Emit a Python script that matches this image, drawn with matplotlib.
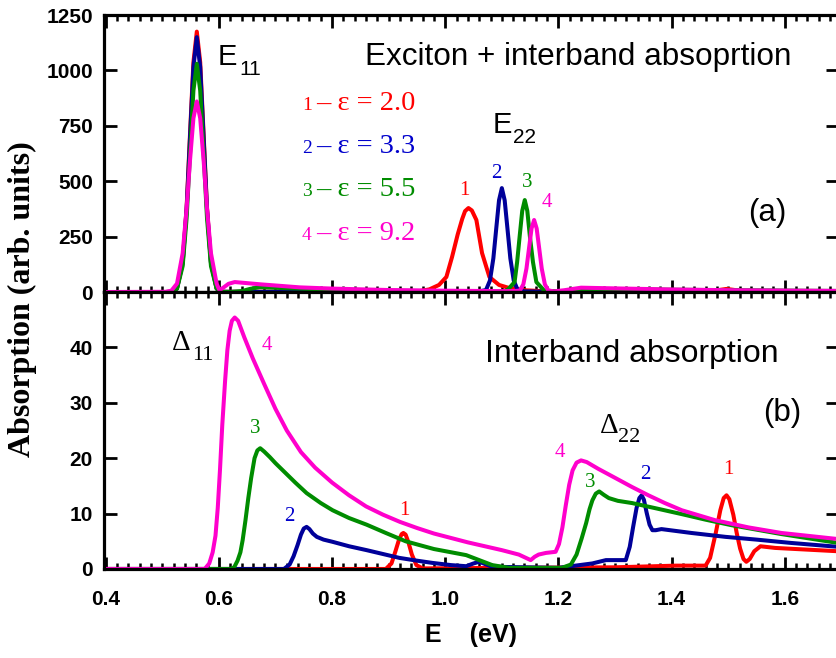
import matplotlib
matplotlib.use("Agg")
import matplotlib.pyplot as plt
from matplotlib.ticker import MultipleLocator

# ---- data ----
# panel (a): exciton + interband absorption
E_a_red = [0.397, 0.506, 0.516, 0.526, 0.536, 0.543, 0.549, 0.555, 0.561, 0.567, 0.573, 0.579,
           0.586, 0.596, 0.606, 0.95, 0.972, 0.989, 1.002, 1.012, 1.022, 1.03, 1.035, 1.041,
           1.047, 1.055, 1.065, 1.078, 1.095, 1.113, 1.14, 1.18, 1.40, 1.47, 1.486, 1.497,
           1.509, 1.53, 1.56, 1.694]
A_a_red = [0, 0, 1, 17, 134, 382, 713, 1037, 1175, 1037, 713, 382,
           134, 17, 1, 2, 12, 32, 68, 158, 260, 330, 365, 379,
           368, 325, 176, 68, 32, 18, 8, 3, 1, 2, 10, 14,
           10, 2, 4, 3]

E_a_blue = [0.397, 0.506, 0.516, 0.526, 0.536, 0.543, 0.549, 0.555, 0.561, 0.567, 0.573, 0.579,
            0.586, 0.596, 0.606, 0.72, 0.755, 0.80, 0.90, 1.0, 1.06, 1.072, 1.079, 1.085,
            1.090, 1.095, 1.100, 1.105, 1.110, 1.115, 1.121, 1.128, 1.14, 1.20, 1.28, 1.347,
            1.38, 1.50, 1.60, 1.694]
A_a_blue = [0, 0, 1, 16, 131, 373, 697, 1015, 1150, 1015, 697, 373,
            131, 16, 1, 0.4, 7.6, 4.9, 2.4, 1, 3, 9, 52, 152,
            284, 414, 469, 414, 284, 152, 52, 9, 3, 0.5, 1.5, 13.3,
            7.2, 5.8, 4.8, 4.0]

E_a_green = [0.397, 0.506, 0.516, 0.526, 0.536, 0.543, 0.549, 0.555, 0.561, 0.567, 0.573, 0.579,
             0.586, 0.596, 0.606, 0.62, 0.642, 0.655, 0.672, 0.72, 0.80, 0.90, 1.00, 1.08,
             1.105, 1.111, 1.1225, 1.127, 1.1315, 1.136, 1.1405, 1.145, 1.1495, 1.155, 1.161,
             1.175, 1.22, 1.25, 1.272, 1.33, 1.42, 1.51, 1.60, 1.694]
A_a_green = [0, 0, 1, 15, 117, 334, 625, 909, 1030, 909, 625, 334,
             117, 15, 1, 0, 5, 14, 21.8, 17, 10.6, 6, 3.3, 1,
             4, 12, 45, 135, 252, 366, 415, 366, 252, 135, 45,
             6, 1, 8, 14, 11.9, 9.9, 7.9, 6.4, 4.7]

E_a_mag = [0.397, 0.506, 0.516, 0.526, 0.536, 0.543, 0.549, 0.555, 0.561, 0.567, 0.573, 0.579,
           0.586, 0.596, 0.601, 0.608, 0.617, 0.628, 0.672, 0.743, 0.80, 0.90, 1.00, 1.10,
           1.125, 1.132, 1.138, 1.1435, 1.148, 1.1525, 1.157, 1.1615, 1.166, 1.1705, 1.176,
           1.182, 1.192, 1.21, 1.24, 1.30, 1.40, 1.50, 1.60, 1.694]
A_a_mag = [0, 1, 6, 38, 175, 376, 595, 784, 860, 784, 595, 376,
           175, 38, 8, 20, 37, 45, 35, 21, 15.5, 9, 6, 4,
           5, 7, 35, 106, 197, 287, 325, 287, 197, 106, 35,
           7, 3, 8, 19.6, 16.4, 11.5, 8.3, 6.4, 5.2]

# panel (b): interband absorption
E_b_red = [0.397, 0.895, 0.905, 0.912, 0.918, 0.923, 0.926, 0.930, 0.935, 0.941, 0.949, 0.96,
           1.10, 1.30, 1.407, 1.46, 1.468, 1.478, 1.486, 1.492, 1.497, 1.502, 1.509, 1.515,
           1.521, 1.527, 1.532, 1.538, 1.546, 1.557, 1.583, 1.694]
A_b_red = [0, 0, 1.0, 3.2, 5.2, 6.3, 6.5, 6.2, 4.8, 2.6, 0.7, 0.1,
           0.2, 0.3, 0.6, 0.6, 2.0, 6.5, 10.6, 12.8, 13.3, 12.6, 9.8, 6.5,
           3.7, 1.8, 1.3, 1.8, 3.2, 4.1, 3.8, 3.2]

E_b_blue = [0.397, 0.715, 0.725, 0.732, 0.739, 0.745, 0.750, 0.755, 0.760, 0.766, 0.773, 0.785,
            0.801, 0.83, 0.861, 0.89, 0.919, 0.95, 0.977, 1.01, 1.037, 1.05, 1.06, 1.07,
            1.083, 1.2, 1.26, 1.284, 1.319, 1.326, 1.332, 1.338, 1.343, 1.347, 1.351, 1.356,
            1.361, 1.366, 1.372, 1.382, 1.435, 1.495, 1.55, 1.611, 1.694]
A_b_blue = [0, 0, 0.8, 2.3, 4.3, 6.2, 7.3, 7.6, 7.2, 6.4, 5.8, 5.3,
            4.9, 4.1, 3.4, 2.7, 2.0, 1.5, 1.1, 0.7, 0.5, 1.0, 1.3, 0.9,
            0.4, 0.2, 1.0, 1.6, 1.6, 4.0, 7.6, 11.0, 12.8, 13.3, 12.5, 10.1,
            8.0, 7.0, 7.0, 7.2, 6.5, 5.8, 5.3, 4.7, 4.0]

E_b_green = [0.397, 0.62, 0.627, 0.633, 0.638, 0.642, 0.647, 0.652, 0.657, 0.663, 0.668, 0.673,
             0.68, 0.69, 0.70, 0.713, 0.735, 0.755, 0.78, 0.801, 0.83, 0.861, 0.895, 0.93,
             0.98, 1.037, 1.06, 1.083, 1.113, 1.206, 1.222, 1.232, 1.241, 1.249, 1.255, 1.26,
             1.266, 1.272, 1.28, 1.289, 1.305, 1.33, 1.37, 1.418, 1.46, 1.506, 1.55, 1.594,
             1.694]
A_b_green = [0, 0, 0.3, 1.5, 3.0, 5.2, 8.8, 12.8, 16.4, 20.0, 21.4, 21.8,
             21.2, 20.2, 19.1, 17.8, 15.6, 13.7, 11.9, 10.6, 9.2, 8.0, 6.5, 5.0,
             3.6, 2.5, 1.6, 0.7, 0.2, 0.2, 0.8, 2.6, 5.5, 8.3, 10.8, 12.4,
             13.6, 14.0, 13.4, 12.8, 12.3, 11.9, 11.0, 9.9, 8.9, 7.9, 7.1, 6.3,
             4.7]

E_b_mag = [0.397, 0.575, 0.583, 0.589, 0.594, 0.598, 0.602, 0.606, 0.611, 0.615, 0.619, 0.623,
           0.628, 0.634, 0.645, 0.66, 0.68, 0.70, 0.72, 0.745, 0.77, 0.80, 0.83, 0.86,
           0.89, 0.92, 0.95, 0.98, 1.01, 1.04, 1.07, 1.10, 1.13, 1.151, 1.158, 1.165,
           1.178, 1.195, 1.201, 1.207, 1.213, 1.219, 1.225, 1.232, 1.24, 1.25, 1.27, 1.301,
           1.33, 1.359, 1.388, 1.418, 1.477, 1.536, 1.594, 1.694]
A_b_mag = [0, 0, 1.0, 3.0, 6.0, 11, 18, 26, 34, 39.5, 43.0, 44.8,
           45.4, 44.8, 41.8, 38.0, 33.4, 28.9, 25.0, 21.1, 18.3, 15.6, 13.3, 11.3,
           9.8, 8.5, 7.4, 6.4, 5.6, 4.8, 4.1, 3.4, 2.6, 1.6, 2.2, 2.6,
           2.9, 3.1, 4.5, 7.5, 11.5, 15.2, 17.8, 19.2, 19.6, 19.3, 18.1, 16.4,
           14.8, 13.3, 11.9, 10.6, 8.8, 7.5, 6.5, 5.4]

eps_labels = ["1", "2", "3", "4"]
eps_values = ["2.0", "3.3", "5.5", "9.2"]

RED, BLUE, GREEN, MAG = "#ff0000", "#000099", "#008c00", "#ff00cc"
TXT_BLUE = "#0000cc"
colors = [RED, BLUE, GREEN, MAG]
txt_colors = [RED, TXT_BLUE, GREEN, MAG]

SANS = "Liberation Sans"
SERIF = "Liberation Serif"

fig = plt.figure(figsize=(8.36, 6.58), dpi=100)
ax1 = fig.add_axes([0.1244, 0.5562, 0.878, 0.421])
ax2 = fig.add_axes([0.1244, 0.1353, 0.878, 0.4209])

lw = 2.9
for E, A, c in zip([E_a_red, E_a_blue, E_a_green, E_a_mag],
                   [A_a_red, A_a_blue, A_a_green, A_a_mag], colors):
    ax1.plot(E, A, color=c, lw=lw, solid_joinstyle="round")
for E, A, c in zip([E_b_red, E_b_blue, E_b_green, E_b_mag],
                   [A_b_red, A_b_blue, A_b_green, A_b_mag], colors):
    ax2.plot(E, A, color=c, lw=lw, solid_joinstyle="round")

for ax in (ax1, ax2):
    ax.set_xlim(0.397, 1.694)
    ax.xaxis.set_major_locator(MultipleLocator(0.2))
    ax.xaxis.set_minor_locator(MultipleLocator(0.02))
    ax.tick_params(which="both", direction="in", top=True, right=True)
    ax.tick_params(which="major", length=9, width=2.0)
    ax.tick_params(axis="x", which="minor", length=4.5, width=1.8)
    ax.tick_params(axis="y", which="minor", left=False, right=False)
    ax.tick_params(axis="y", pad=8)
    for s in ax.spines.values():
        s.set_linewidth(2.3)

ax1.set_ylim(0, 1250)
ax1.set_yticks([0, 250, 500, 750, 1000, 1250])
ax1.tick_params(axis="x", labelbottom=False)

ax2.set_ylim(0, 50)
ax2.set_yticks([0, 10, 20, 30, 40])
ax2.set_xticks([0.4, 0.6, 0.8, 1.0, 1.2, 1.4, 1.6])
ax2.set_xticklabels(["0.4", "0.6", "0.8", "1.0", "1.2", "1.4", "1.6"])
ax2.tick_params(axis="x", pad=15)

for lab in ax1.get_yticklabels() + ax2.get_yticklabels() + ax2.get_xticklabels():
    lab.set_fontfamily(SANS)
    lab.set_fontweight("bold")
    lab.set_fontsize(15)

ax2.set_xlabel("E    (eV)", fontfamily=SANS, fontweight="bold", fontsize=18, labelpad=10)
fig.text(0.027, 0.545, "Absorption (arb. units)", rotation=90, ha="center", va="center",
         fontfamily=SERIF, fontweight="bold", fontsize=23)

# ---- panel (a) annotations ----
ax1.text(0.598, 1024, "E", fontfamily=SANS, fontsize=21, ha="left", va="baseline")
ax1.text(0.636, 979, "11", fontfamily=SANS, fontsize=15, ha="left", va="baseline")
ax1.text(0.858, 1024, "Exciton + interband absoprtion", fontfamily=SANS, fontsize=22.7,
         ha="left", va="baseline")
ax1.text(1.084, 718, "E", fontfamily=SANS, fontsize=21, ha="left", va="baseline")
ax1.text(1.1194, 672, "22", fontfamily=SANS, fontsize=15, ha="left", va="baseline")
ax1.text(1.536, 356, "(a)", fontfamily=SANS, fontsize=22.5, ha="left", va="center")

leg_y = [821, 627, 433, 235]
for lab, val, c, y in zip(eps_labels, eps_values, txt_colors, leg_y):
    ax1.text(0.7466, y, lab, color=c, fontfamily=SERIF, fontsize=14, ha="left", va="baseline")
    ax1.text(0.7714, y, "\u2013 \u03b5 = " + val, color=c, fontfamily=SERIF, fontsize=20.5,
             ha="left", va="baseline")

peak_a = [(1.0346, 460), (1.091, 537), (1.144, 496), (1.1795, 402)]
for lab, c, (x, y) in zip(eps_labels, txt_colors, peak_a):
    ax1.text(x, y, lab, color=c, fontfamily=SERIF, fontsize=15, ha="center", va="center")

# ---- panel (b) annotations ----
ax2.text(0.517, 39.5, "\u0394", fontfamily=SERIF, fontsize=21, ha="left", va="baseline")
ax2.text(0.552, 37.7, "11", fontfamily=SERIF, fontsize=16, ha="left", va="baseline")
ax2.text(1.070, 37.4, "Interband absorption", fontfamily=SANS, fontsize=23,
         ha="left", va="baseline")
ax2.text(1.561, 28.2, "(b)", fontfamily=SANS, fontsize=22.5, ha="left", va="center")
ax2.text(1.273, 24.5, "\u0394", fontfamily=SERIF, fontsize=21, ha="left", va="baseline")
ax2.text(1.305, 22.9, "22", fontfamily=SERIF, fontsize=16, ha="left", va="baseline")

peak_b11 = [(0.927, 10.6), (0.725, 9.4), (0.665, 25.3), (0.685, 40.3)]
peak_b22 = [(1.501, 17.9), (1.3527, 17.0), (1.2555, 15.7), (1.2025, 21.1)]
for lab, c, p1, p2 in zip(eps_labels, txt_colors, peak_b11, peak_b22):
    ax2.text(p1[0], p1[1], lab, color=c, fontfamily=SERIF, fontsize=15, ha="center", va="center")
    ax2.text(p2[0], p2[1], lab, color=c, fontfamily=SERIF, fontsize=15, ha="center", va="center")

fig.savefig("out.png", dpi=100)
